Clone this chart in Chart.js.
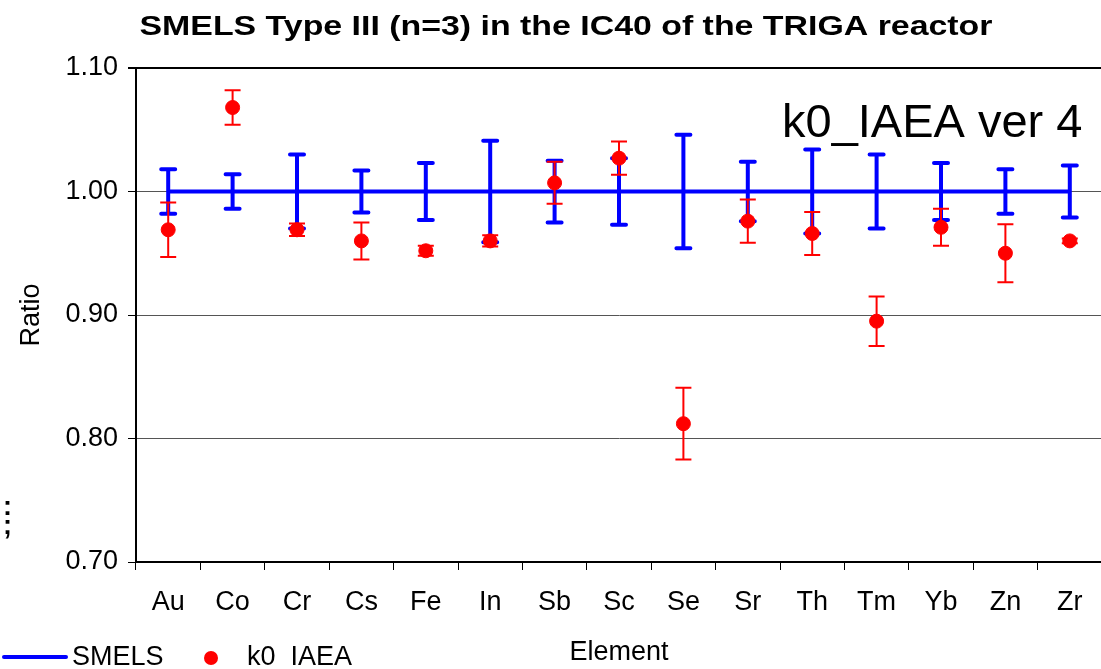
<!DOCTYPE html>
<html>
<head>
<meta charset="utf-8">
<script src="https://cdn.jsdelivr.net/npm/chart.js@4"></script>
<style>
  html, body { margin: 0; padding: 0; background: #fff; overflow: hidden; width: 1101px; height: 669px; }
  #wrap { position: relative; width: 1101px; height: 669px; overflow: hidden; }
  canvas { display: block; }
</style>
</head>
<body>
<div id="wrap"><canvas id="c" width="1110" height="669" style="width:1110px;height:669px"></canvas></div>
<script>
// ---- data ----
const categories = ['Au','Co','Cr','Cs','Fe','In','Sb','Sc','Se','Sr','Th','Tm','Yb','Zn','Zr'];
const smelsValues = [1.00,1.00,1.00,1.00,1.00,1.00,1.00,1.00,1.00,1.00,1.00,1.00,1.00,1.00,1.00];
const smelsErrors = [0.018,0.014,0.030,0.017,0.023,0.041,0.025,0.027,0.046,0.024,0.034,0.030,0.023,0.018,0.021];
const k0Values = [0.969,1.068,0.969,0.960,0.952,0.960,1.007,1.027,0.812,0.976,0.966,0.895,0.971,0.950,0.960];
const k0Errors = [0.022,0.014,0.005,0.015,0.004,0.0045,0.017,0.0135,0.029,0.0175,0.0175,0.020,0.015,0.0235,0.002];
const yTicks = [0.70, 0.80, 0.90, 1.00, 1.10];
const titleText = 'SMELS Type III (n=3) in the IC40 of the TRIGA reactor';
const annotationText = 'k0_IAEA ver 4';
const seriesNames = ['SMELS', 'k0_IAEA'];
const FONT = "'Liberation Sans', Arial, sans-serif";

function drawErrorBars(chart, values, errors, color, lw, capHalf, round) {
  const ctx = chart.ctx, x = chart.scales.x, y = chart.scales.y;
  ctx.save();
  ctx.strokeStyle = color;
  ctx.lineWidth = lw;
  ctx.lineCap = round ? 'round' : 'butt';
  values.forEach((v, i) => {
    const px = x.getPixelForValue(i);
    const top = y.getPixelForValue(v + errors[i]);
    const bot = y.getPixelForValue(v - errors[i]);
    ctx.beginPath();
    ctx.moveTo(px, top); ctx.lineTo(px, bot);
    ctx.moveTo(px - capHalf, top); ctx.lineTo(px + capHalf, top);
    ctx.moveTo(px - capHalf, bot); ctx.lineTo(px + capHalf, bot);
    ctx.stroke();
  });
  ctx.restore();
}

const errorBarPlugin = {
  id: 'errorBars',
  afterDatasetDraw(chart, args) {
    if (args.index === 0) drawErrorBars(chart, smelsValues, smelsErrors, '#0000FF', 4, 7, true);
  },
  beforeDatasetDraw(chart, args) {
    if (args.index === 1) drawErrorBars(chart, k0Values, k0Errors, '#FF0000', 2, 8, false);
  }
};

const extrasPlugin = {
  id: 'extras',
  afterDraw(chart) {
    const ctx = chart.ctx;
    ctx.save();
    // title (horizontally stretched as in the reference)
    ctx.fillStyle = '#000';
    ctx.font = 'bold 28px ' + FONT;
    ctx.textBaseline = 'alphabetic';
    ctx.textAlign = 'center';
    const w = ctx.measureText(titleText).width;
    const sx = 853 / w;
    ctx.save();
    ctx.translate(566, 35);
    ctx.scale(sx, 1);
    ctx.fillText(titleText, 0, 0);
    ctx.restore();
    // annotation
    ctx.textAlign = 'left';
    ctx.font = '47px ' + FONT;
    ctx.fillText(annotationText, 782, 137);
    // legend
    ctx.strokeStyle = '#0000FF';
    ctx.lineWidth = 4;
    ctx.lineCap = 'round';
    ctx.beginPath(); ctx.moveTo(4, 657); ctx.lineTo(66, 657); ctx.stroke();
    ctx.font = '27px ' + FONT;
    ctx.textBaseline = 'middle';
    ctx.fillText(seriesNames[0], 72, 658);
    ctx.fillStyle = '#FF0000';
    ctx.beginPath(); ctx.arc(211, 658, 7, 0, Math.PI * 2); ctx.fill();
    ctx.fillStyle = '#000';
    ctx.fillText(seriesNames[1], 247, 658);
    // fragments of surrounding text at left edge
    ctx.font = 'bold 27px ' + FONT;
    ctx.fillText(':', 3, 508);
    ctx.fillText(';', 3, 527);
    ctx.restore();
  }
};

new Chart(document.getElementById('c'), {
  type: 'line',
  data: {
    labels: categories,
    datasets: [
      {
        label: seriesNames[0],
        data: smelsValues,
        borderColor: '#0000FF',
        backgroundColor: '#0000FF',
        borderWidth: 4,
        pointRadius: 0,
        tension: 0,
        order: 1
      },
      {
        label: seriesNames[1],
        data: k0Values,
        showLine: false,
        borderColor: '#FF0000',
        backgroundColor: '#FF0000',
        pointRadius: 7,
        pointBorderWidth: 1,
        pointStyle: 'circle',
        order: 0
      }
    ]
  },
  options: {
    responsive: false,
    animation: false,
    events: [],
    layout: { padding: { left: 0, right: 4, top: 68, bottom: 0 } },
    plugins: {
      legend: { display: false },
      tooltip: { enabled: false },
      title: { display: false }
    },
    scales: {
      x: {
        type: 'category',
        offset: true,
        grid: { display: true, offset: true, drawOnChartArea: false, drawTicks: true, tickLength: 8, tickColor: '#000', tickWidth: 1 },
        border: { display: true, color: '#000', width: 2 },
        ticks: { color: '#000', font: { family: FONT, size: 27 }, padding: 16, autoSkip: false, maxRotation: 0 },
        title: { display: true, text: 'Element', color: '#000', font: { family: FONT, size: 27 }, padding: { top: 0, bottom: 0 } },
        afterFit(scale) { scale.height = 107; }
      },
      y: {
        min: 0.70,
        max: 1.10,
        afterBuildTicks(scale) { scale.ticks = yTicks.map(v => ({ value: v })); },
        grid: {
          drawTicks: true,
          tickLength: 8,
          tickColor: '#000',
          color: ctx => (ctx.tick && Math.abs(ctx.tick.value - 1.10) < 1e-6) ? '#000' : '#555',
          lineWidth: ctx => (ctx.tick && Math.abs(ctx.tick.value - 1.10) < 1e-6) ? 2 : 1
        },
        border: { display: true, color: '#000', width: 2 },
        ticks: { color: '#000', font: { family: FONT, size: 27 }, padding: 10, callback: v => Number(v).toFixed(2) },
        title: { display: true, text: 'Ratio', color: '#000', font: { family: FONT, size: 27 }, padding: { top: 15, bottom: 0 } },
        afterFit(scale) { scale.width = 136; }
      }
    }
  },
  plugins: [errorBarPlugin, extrasPlugin]
});
</script>
</body>
</html>
